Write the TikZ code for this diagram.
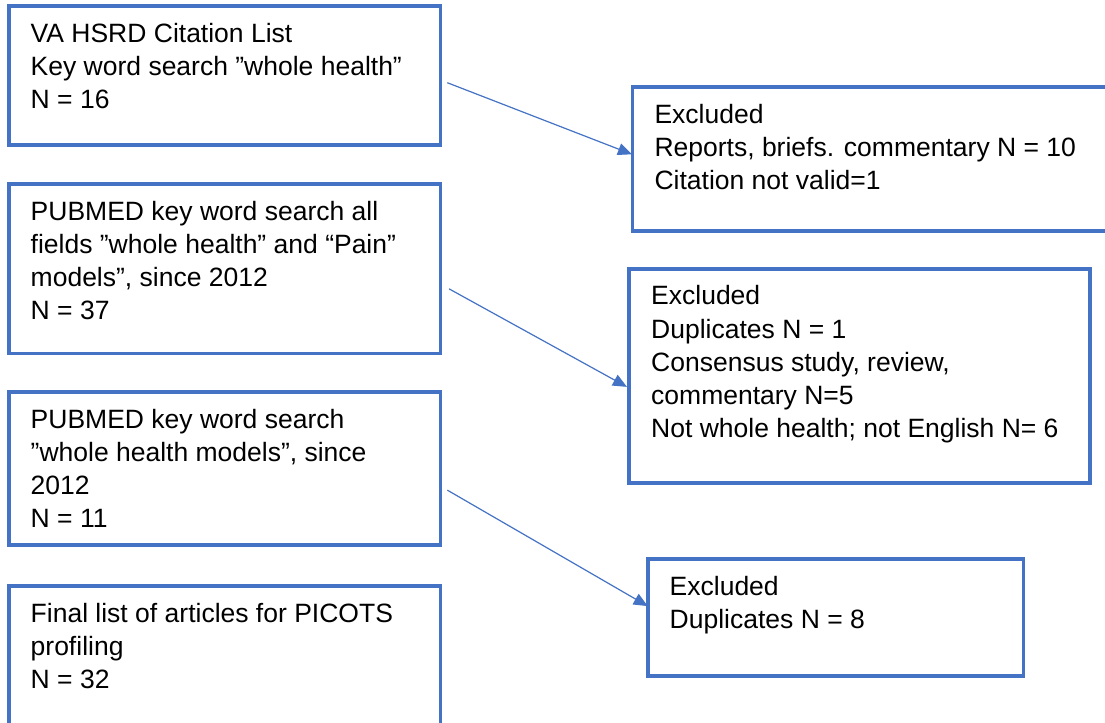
\documentclass[tikz,border=0pt]{standalone}
\usepackage{fontspec}
\setmainfont{Liberation Sans}
\usetikzlibrary{positioning}
\usetikzlibrary{calc}
\usetikzlibrary{arrows.meta}

\definecolor{hsrdblue}{HTML}{4472C4}

\tikzset{
  listbox/.style 2 args={draw=hsrdblue, line width=1.9pt, outer sep=0pt, anchor=north west,
    inner xsep=11pt, inner ysep=6.4pt, font=\fontsize{13.25pt}{16.6pt}\selectfont,
    execute at begin node={\begin{minipage}[t][#2][t]{#1}\raggedright\strut},
    execute at end node={\end{minipage}}},
  flow/.style={color=hsrdblue, line width=0.6pt, -{Triangle[length=7pt,width=6pt]}},
}

\begin{document}
\begin{tikzpicture}
%     \draw[help lines](0,-13) grid (20,0);
	\path[use as bounding box, fill=white] (0,0) rectangle (19.418,-12.705);

	%%%% searches %%%%

	\node[listbox={193.9pt}{56.55pt}] (src1) at (0.153,-0.105)
		{VA HSRD Citation List\\ Key word search ”whole health”\\ N = 16};

	\node[listbox={193.9pt}{71.8pt}] (src2) at (0.153,-3.239)
		{PUBMED key word search all\\ fields ”whole health” and “Pain”\\ models”, since 2012\\ N = 37};

	\node[listbox={193.9pt}{63.4pt}] (src3) at (0.153,-6.894)
		{PUBMED key word search\\ ”whole health models”, since\\ 2012\\ N = 11};

	\node[listbox={193.9pt}{74pt}] (final) at (0.153,-10.303)
		{Final list of articles for PICOTS\\ profiling\\ N = 32};

	%%%% exclusions %%%%

	\node[listbox={217.75pt}{59.05pt}] (excl1) at (11.115,-1.529)
		{Excluded\\ Reports, briefs. commentary N = 10\\ Citation not valid=1};

	\node[listbox={208.55pt}{94.45pt}] (excl2) at (11.057,-4.724)
		{Excluded\\ Duplicates N = 1\\ Consensus study, review,\\ commentary N=5\\ Not whole health; not English N= 6};

	\node[listbox={165.9pt}{45.7pt}] (excl3) at (11.382,-9.823)
		{Excluded\\ Duplicates N = 8};

	%%% arrows %%%

	\draw[flow] ($(src1.east)+(0.12,-0.13)$) -- ($(excl1.west)+(-0.01,0.08)$);
	\draw[flow] ($(src2.east)+(0.15,-0.35)$) -- ($(excl2.west)+(-0.04,-0.19)$);
	\draw[flow] ($(src3.east)+(0.12,-0.38)$) -- ($(excl3.west)+(0,0.20)$);

\end{tikzpicture}
\end{document}
